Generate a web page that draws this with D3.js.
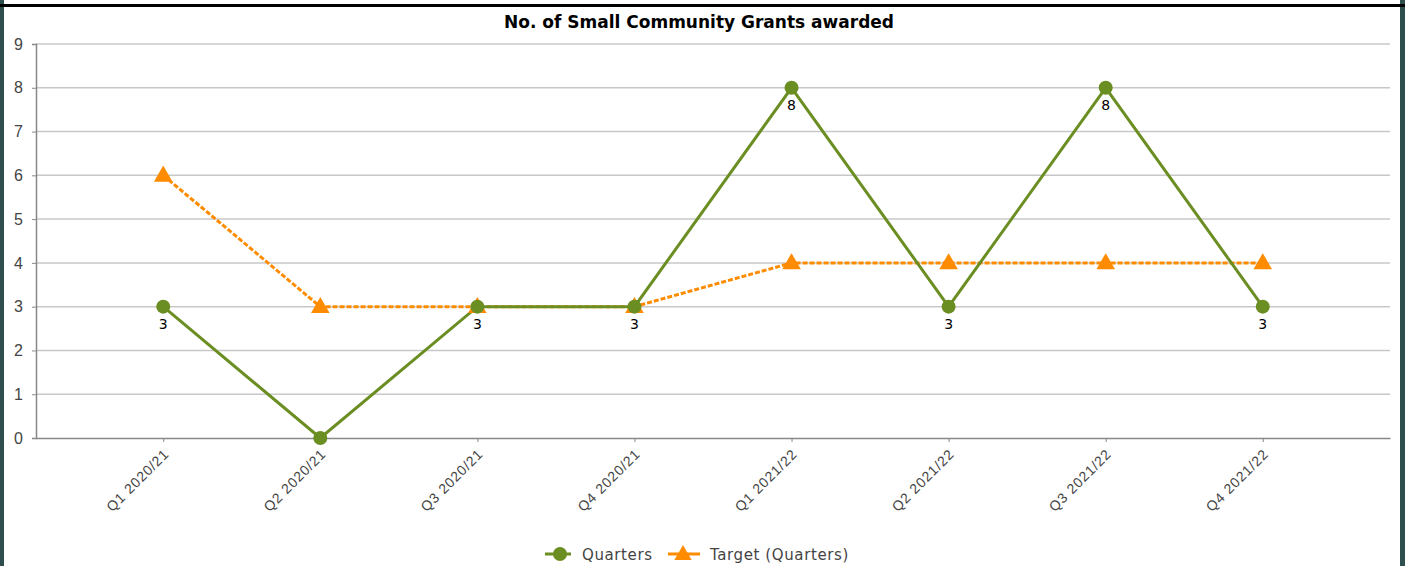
<!DOCTYPE html>
<html>
<head>
<meta charset="utf-8">
<script src="https://cdn.jsdelivr.net/npm/d3@7"></script>
<style>
  body { margin: 0; background: #fff; overflow: hidden; }
  svg { display: block; font-family: "DejaVu Sans", Verdana, sans-serif; }
</style>
</head>
<body>
<script>
const quarters = ['Q1 2020/21', 'Q2 2020/21', 'Q3 2020/21', 'Q4 2020/21', 'Q1 2021/22', 'Q2 2021/22', 'Q3 2021/22', 'Q4 2021/22']
const actual = [3, 0, 3, 3, 8, 3, 8, 3]
const target = [6, 3, 3, 3, 4, 4, 4, 4]
const yTicks = [0, 1, 2, 3, 4, 5, 6, 7, 8, 9]

const width = 1405
const height = 566
const margin = { top: 44, right: 15, bottom: 128, left: 36 }
const green = '#6b8e23'
const orange = '#ff8c00'

const svg = d3.select('body')
  .append('svg')
  .attr('width', width)
  .attr('height', height)

// frame
svg.append('rect').attr('x', 0).attr('y', 0).attr('width', 4).attr('height', height).attr('fill', '#2f4f4f')
svg.append('rect').attr('x', 1400).attr('y', 0).attr('width', 5).attr('height', height).attr('fill', '#2f4f4f')
svg.append('rect').attr('x', 0).attr('y', 4).attr('width', width).attr('height', 3).attr('fill', '#000')

const x = d3.scalePoint()
  .domain(quarters)
  .range([margin.left, width - margin.right])
  .padding(0.81)

const y = d3.scaleLinear()
  .domain([0, 9])
  .range([height - margin.bottom, margin.top])

svg.append('text')
  .attr('x', 699)
  .attr('y', 28)
  .attr('text-anchor', 'middle')
  .attr('font-size', 17)
  .attr('font-weight', 'bold')
  .attr('fill', '#000')
  .text('No. of Small Community Grants awarded')

// grid
svg.append('g')
  .selectAll('line')
  .data(yTicks.filter(d => d > 0))
  .enter()
  .append('line')
  .attr('x1', margin.left)
  .attr('x2', width - margin.right)
  .attr('y1', d => y(d))
  .attr('y2', d => y(d))
  .attr('stroke', '#c8c8c8')
  .attr('stroke-width', 1.5)

const yAxis = svg.append('g')
  .attr('transform', `translate(${margin.left},0)`)
  .call(d3.axisLeft(y).tickValues(yTicks).tickSize(4).tickPadding(9).tickFormat(d3.format('d')))
yAxis.select('.domain').attr('stroke', '#888').attr('stroke-width', 1.5)
yAxis.selectAll('.tick line').attr('stroke', '#888')
yAxis.selectAll('text').attr('font-size', 16).attr('fill', '#444')

const xAxis = svg.append('g')
  .attr('transform', `translate(0,${y(0)})`)
  .call(d3.axisBottom(x).tickSize(4).tickSizeOuter(0))
xAxis.select('.domain').attr('stroke', '#888').attr('stroke-width', 1.5)
xAxis.selectAll('.tick line').attr('stroke', '#888')
xAxis.selectAll('text')
  .attr('font-size', 14)
  .attr('letter-spacing', 0.8)
  .attr('fill', '#444')
  .attr('text-anchor', 'end')
  .attr('dy', null)
  .attr('y', 0)
  .attr('transform', 'translate(6,17) rotate(-45)')

const line = d3.line().x((d, i) => x(quarters[i])).y(d => y(d))

svg.append('path')
  .datum(target)
  .attr('d', line)
  .attr('fill', 'none')
  .attr('stroke', orange)
  .attr('stroke-width', 3)
  .attr('stroke-dasharray', '5,2')

svg.append('path')
  .datum(actual)
  .attr('d', line)
  .attr('fill', 'none')
  .attr('stroke', green)
  .attr('stroke-width', 3)

svg.append('g')
  .selectAll('path')
  .data(target)
  .enter()
  .append('path')
  .attr('d', d3.symbol(d3.symbolTriangle, 150))
  .attr('transform', (d, i) => `translate(${x(quarters[i])},${y(d) + 1})`)
  .attr('fill', orange)

svg.append('g')
  .selectAll('circle')
  .data(actual)
  .enter()
  .append('circle')
  .attr('cx', (d, i) => x(quarters[i]))
  .attr('cy', d => y(d))
  .attr('r', 7)
  .attr('fill', green)

// value labels (zero is not labelled in the original)
const labelData = actual.map((v, i) => ({ q: quarters[i], v })).filter(d => d.v > 0)
svg.append('g')
  .selectAll('text')
  .data(labelData)
  .enter()
  .append('text')
  .attr('x', d => x(d.q))
  .attr('y', d => y(d.v) + 22)
  .attr('text-anchor', 'middle')
  .attr('font-size', 14)
  .attr('fill', '#000')
  .text(d => d.v)

// legend
const legend = svg.append('g').attr('transform', 'translate(545,554)')
legend.append('line').attr('x1', 0).attr('x2', 26).attr('stroke', green).attr('stroke-width', 3)
legend.append('circle').attr('cx', 15).attr('r', 7).attr('fill', green)
legend.append('text').attr('x', 37).attr('y', 6).attr('font-size', 15).attr('letter-spacing', 0.6).attr('fill', '#444').text('Quarters')
legend.append('line').attr('x1', 123).attr('x2', 155).attr('stroke', orange).attr('stroke-width', 3)
legend.append('path').attr('d', d3.symbol(d3.symbolTriangle, 130)).attr('transform', 'translate(138,1)').attr('fill', orange)
legend.append('text').attr('x', 165).attr('y', 6).attr('font-size', 15).attr('letter-spacing', 0.6).attr('fill', '#444').text('Target (Quarters)')
</script>
</body>
</html>
